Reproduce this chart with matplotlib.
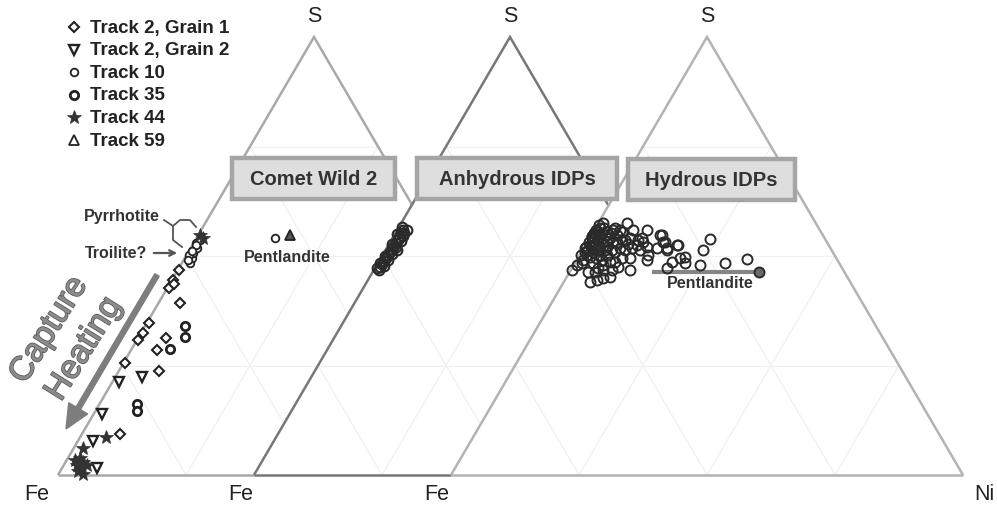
import numpy as np
import matplotlib
matplotlib.use("Agg")
import matplotlib.pyplot as plt
from matplotlib.patches import Polygon, Rectangle, FancyArrow
import matplotlib.patheffects as pe

plt.rcParams['font.family'] = ['Liberation Sans', 'DejaVu Sans']

# ---------------- data (atomic fractions S and Ni; Fe = 1 - S - Ni) ----------------
# Comet Wild 2 (triangle 1)
t2g1_S  = [0.392, 0.346, 0.325, 0.308, 0.312, 0.285, 0.256, 0.238, 0.094, 0.468, 0.445, 0.427, 0.436]
t2g1_Ni = [0.042, 0.004, 0.004, 0.003, 0.055, 0.051, 0.003, 0.079, 0.074, 0.003, 0.003, 0.003, 0.008]

t2g2_S  = [0.213, 0.223, 0.139, 0.078, 0.015]
t2g2_Ni = [0.013, 0.052, 0.016, 0.029, 0.068]

t10_S   = [0.483, 0.495, 0.506, 0.518, 0.529, 0.502, 0.537, 0.525, 0.512, 0.490, 0.541]
t10_Ni  = [0.016, 0.014, 0.011, 0.012, 0.006, 0.004, 0.009, 0.008, 0.006, 0.009, 0.153]

t35_S   = [0.340, 0.316, 0.287, 0.162, 0.146]
t35_Ni  = [0.078, 0.090, 0.075, 0.073, 0.081]

t44_S   = [0.548, 0.540, 0.087, 0.061, 0.038, 0.019, 0.023, 0.002, 0.008, 0.030, 0.034, 0.023]
t44_Ni  = [0.004, 0.014, 0.051, 0.019, 0.024, 0.037, 0.025, 0.048, 0.036, 0.034, 0.016, 0.045]

t59_S   = [0.548]
t59_Ni  = [0.179]

# Anhydrous IDPs (triangle 2)
anh_S  = [0.566, 0.559, 0.553, 0.553, 0.543, 0.537, 0.530, 0.523, 0.516, 0.514,
          0.509, 0.502, 0.495, 0.489, 0.482, 0.475, 0.468,
          0.560, 0.545, 0.535, 0.520, 0.505, 0.490, 0.478, 0.550, 0.527, 0.500,
          0.485, 0.472]
anh_Ni = [0.006, 0.011, 0.011, 0.017, 0.012, 0.013, 0.013, 0.012, 0.012, 0.022,
          0.011, 0.011, 0.010, 0.010, 0.009, 0.009, 0.010,
          0.018, 0.019, 0.020, 0.018, 0.017, 0.016, 0.014, 0.005, 0.006, 0.005,
          0.004, 0.004]

# Hydrous IDPs (triangle 3)
hyd_S = [0.575, 0.571, 0.559, 0.575, 0.559, 0.559, 0.548, 0.532, 0.518, 0.518,
         0.525, 0.491, 0.502, 0.468, 0.468, 0.479, 0.491, 0.502, 0.509, 0.484,
         0.491, 0.463, 0.441, 0.445, 0.450, 0.452, 0.468, 0.486, 0.495, 0.495,
         0.514, 0.518, 0.514, 0.537, 0.541, 0.537, 0.532, 0.521, 0.514, 0.525,
         0.532, 0.553, 0.548, 0.555, 0.518, 0.502, 0.475, 0.463, 0.468, 0.548,
         0.532, 0.514, 0.525, 0.539, 0.514, 0.495, 0.498, 0.484, 0.486, 0.473,
         0.479, 0.484, 0.493, 0.541, 0.537, 0.525, 0.530, 0.559, 0.564, 0.555,
         0.543, 0.509, 0.502, 0.498, 0.514, 0.514, 0.548, 0.518, 0.564, 0.521,
         0.514, 0.548, 0.541, 0.559, 0.541, 0.527, 0.525, 0.532, 0.521,
         0.546, 0.534, 0.546, 0.534, 0.564, 0.553, 0.532, 0.521, 0.521, 0.502,
         0.495, 0.486, 0.479, 0.537, 0.555, 0.509, 0.484, 0.473]
hyd_Ni = [0.009, 0.003, 0.037, 0.056, 0.076, 0.103, 0.134, 0.148, 0.143, 0.163,
          0.179, 0.137, 0.134, 0.116, 0.003, 0.006, 0.012, 0.003, 0.007, 0.035,
          0.049, 0.036, 0.051, 0.063, 0.072, 0.085, 0.080, 0.077, 0.086, 0.102,
          0.083, 0.094, 0.112, 0.097, 0.079, 0.066, 0.050, 0.044, 0.030, 0.009,
          0.003, 0.003, 0.027, 0.008, 0.003, 0.054, 0.089, 0.049, 0.063, 0.138,
          0.152, 0.165, 0.181, 0.237, 0.235, 0.200, 0.208, 0.215, 0.188, 0.186,
          0.247, 0.293, 0.331, 0.005, 0.019, 0.019, 0.030, 0.004, 0.009, 0.027,
          0.003, 0.023, 0.040, 0.023, 0.044, 0.058, 0.050, 0.071, 0.038, 0.003,
          0.011, 0.009, 0.040, 0.050, 0.103, 0.082, 0.101, 0.109, 0.122,
          0.003, 0.012, 0.018, 0.036, 0.017, 0.036, 0.058, 0.031, 0.015, 0.014,
          0.036, 0.067, 0.057, 0.071, 0.057, 0.066, 0.014, 0.051]
pent_end_S = [0.463]
pent_end_Ni = [0.370]
pent_line_S = [0.463, 0.463]
pent_line_Ni = [0.161, 0.370]

legend_labels = ["Track 2, Grain 1", "Track 2, Grain 2", "Track 10",
                 "Track 35", "Track 44", "Track 59"]
panel_titles = ["Comet Wild 2", "Anhydrous IDPs", "Hydrous IDPs"]

# ---------------- layout ----------------
W_PX, H_PX = 997, 507
TRI_LEFT = [58, 254, 451]
BASE_Y = 475
TRI_W = 512
TRI_H = 438

def tern(k, s, ni):
    s = np.asarray(s, float)
    ni = np.asarray(ni, float)
    x = TRI_LEFT[k] + TRI_W * ni + 0.5 * TRI_W * s
    y = BASE_Y - TRI_H * s
    return x, y

fig = plt.figure(figsize=(W_PX / 100, H_PX / 100), dpi=100)
ax = fig.add_axes([0, 0, 1, 1])
ax.set_xlim(0, W_PX)
ax.set_ylim(H_PX, 0)
ax.axis('off')

edge_cols = ['#a9a9a9', '#777777', '#b3b3b3']
edge_lw = 1.8
for k in range(3):
    vx, vy = tern(k, [0, 1, 0], [0, 0, 1])
    z = 1 + 2 * k
    ax.add_patch(Polygon(np.column_stack([vx, vy]), closed=True, facecolor='white',
                         edgecolor='none', zorder=z))
    for f in (0.25, 0.5, 0.75):
        for ss, nn in (([f, f], [0, 1 - f]), ([0, 1 - f], [f, f]), ([1 - f, 0], [0, 1 - f])):
            gx, gy = tern(k, ss, nn)
            ax.plot(gx, gy, color='#f0f0f0', lw=0.9, zorder=z + 0.2)
    # left and right edges
    ax.plot(vx[:3], vy[:3], color=edge_cols[k], lw=edge_lw, zorder=z + 0.5,
            solid_joinstyle='miter', solid_capstyle='butt')
    # base: visible part ends where the next diagram starts
    if k < 2:
        bx = [vx[0], TRI_LEFT[k + 1]]
    else:
        bx = [vx[0], vx[2]]
    ax.plot(bx, [BASE_Y, BASE_Y], color=edge_cols[k], lw=edge_lw, zorder=z + 0.5,
            solid_capstyle='butt')

ink = '#222222'
series = [
    (t2g1_S, t2g1_Ni, dict(marker='D', ms=5.2, mfc='white', mec=ink, mew=1.5)),
    (t2g2_S, t2g2_Ni, dict(marker='v', ms=6.5, mfc='white', mec=ink, mew=1.7)),
    (t10_S, t10_Ni, dict(marker='o', ms=5.5, mfc='white', mec=ink, mew=1.3)),
    (t35_S, t35_Ni, dict(marker='o', ms=6.0, mfc='white', mec=ink, mew=2.0)),
    (t44_S, t44_Ni, dict(marker='*', ms=10, mfc='#333333', mec='#333333', mew=0.5)),
    (t59_S, t59_Ni, dict(marker='^', ms=7, mfc='#555555', mec=ink, mew=1.3)),
]
for s, n, st in series:
    x, y = tern(0, s, n)
    ax.plot(x, y, ls='none', zorder=8, **st)

x, y = tern(1, anh_S, anh_Ni)
ax.plot(x, y, ls='none', marker='o', ms=7, mfc='none', mec='#2a2a2a', mew=1.5, zorder=8)

lx, ly = tern(2, pent_line_S, pent_line_Ni)
ax.plot(lx, ly, color='#858585', lw=3, solid_capstyle='butt', zorder=7)
x, y = tern(2, hyd_S, hyd_Ni)
ax.plot(x, y, ls='none', marker='o', ms=7.2, mfc='none', mec='#2a2a2a', mew=1.4, zorder=8)
x, y = tern(2, pent_end_S, pent_end_Ni)
ax.plot(x, y, ls='none', marker='o', ms=7.2, mfc='#6a6a6a', mec='#2a2a2a', mew=1.4, zorder=8)

# ---------------- boxes ----------------
boxes = [(232, 158, 163, 41), (417, 158, 200, 41), (628, 159, 167, 41)]
for (bx, by, bw, bh), title in zip(boxes, panel_titles):
    ax.add_patch(Rectangle((bx, by), bw, bh, facecolor='#dedede', edgecolor='#a5a5a5',
                           lw=3.2, zorder=10))
    ax.text(bx + bw / 2, by + bh / 2 + 1, title, ha='center', va='center', fontsize=14.5,
            fontweight='bold', color='#333333', zorder=11)

# ---------------- vertex labels ----------------
for k in range(3):
    vx, vy = tern(k, [1], [0])
    ax.text(vx[0], 17, "S", ha='center', va='center', fontsize=15.5, color='#222222')
for xx in (37, 241, 437):
    ax.text(xx, 494, "Fe", ha='center', va='center', fontsize=15.5, color='#222222')
ax.text(984, 494, "Ni", ha='center', va='center', fontsize=15.5, color='#222222')

# ---------------- legend ----------------
leg_y = [27, 49.6, 72.2, 94.8, 117.4, 140]
for (s, n, st), lab, yy in zip(series, legend_labels, leg_y):
    st2 = dict(st)
    if st2['marker'] == '^':
        st2['mfc'] = 'white'
    ax.plot([74], [yy], ls='none', zorder=12, **st2)
    ax.text(90, yy + 1, lab, ha='left', va='center', fontsize=13.5, fontweight='bold',
            color='#222222', zorder=12)

# ---------------- annotations ----------------
ax.text(122, 216, "Pyrrhotite", ha='center', va='center', fontsize=11.5,
        fontweight='bold', color='#333333', zorder=12)
ax.plot([164, 173, 173, 182], [220, 226, 240, 247], color='#555555', lw=1.3, zorder=12)
ax.plot([173, 180, 190, 196], [226, 220, 220, 227], color='#555555', lw=1.3, zorder=12)
ax.text(116, 253, "Troilite?", ha='center', va='center', fontsize=11.5,
        fontweight='bold', color='#333333', zorder=12)
ax.annotate("", xy=(180, 253), xytext=(151, 253),
            arrowprops=dict(arrowstyle='->', color='#555555', lw=1.6), zorder=12)

ax.text(287, 257, "Pentlandite", ha='center', va='center', fontsize=11.5,
        fontweight='bold', color='#333333', zorder=12)
ax.text(710, 284, "Pentlandite", ha='center', va='center', fontsize=11.5,
        fontweight='bold', color='#333333', zorder=12)

ax.add_patch(FancyArrow(157, 275, 66 - 157, 429 - 275, width=5, head_width=22,
                        head_length=24, length_includes_head=True,
                        color='#7d7d7d', zorder=12))
for txt, (cx, cy) in (("Capture", (49, 330)), ("Heating", (84, 349))):
    ax.text(cx, cy, txt, ha='center', va='center', rotation=58, fontsize=24,
            color='#8c8c8c', zorder=12,
            path_effects=[pe.withStroke(linewidth=1.2, foreground='#5a5a5a')])

fig.savefig("out.png", dpi=100)
